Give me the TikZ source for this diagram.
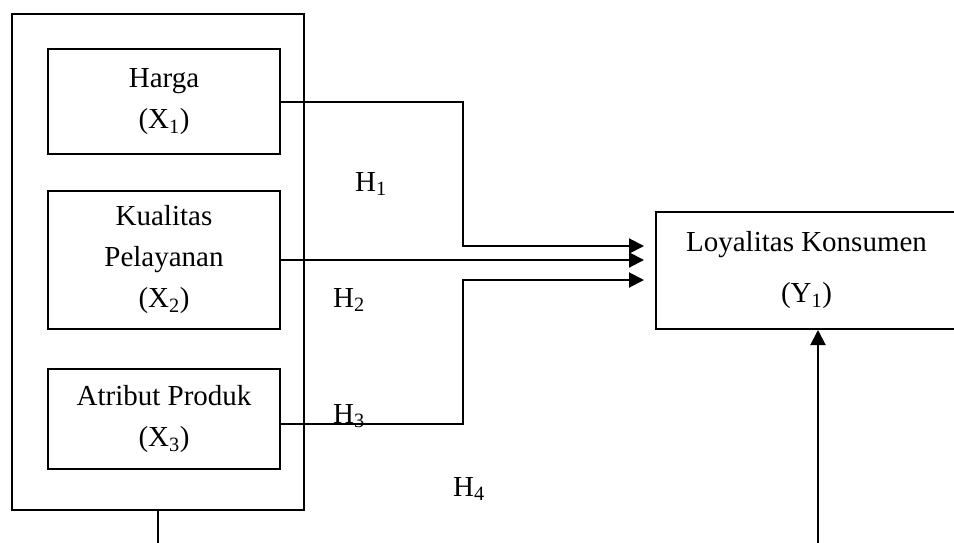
\documentclass[tikz,border=0pt]{standalone}
\usepackage{fontspec}
\setmainfont{Liberation Serif}
\usetikzlibrary{arrows.meta}
\begin{document}
\begin{tikzpicture}[x=1pt,y=-1pt,
  every node/.style={font=\fontsize{29}{41}\selectfont},
  box/.style={draw, line width=2pt, rectangle, inner sep=0pt, align=center},
  link/.style={line width=2pt},
  tip/.style={-{Triangle[length=15pt,width=15pt]}},
  hlabel/.style={anchor=base west, inner sep=0pt}]
\useasboundingbox (0,0) rectangle (954,542);
\clip (0,0) rectangle (954,542);

% independent variables grouped in one frame
\node[box, minimum width=292pt, minimum height=496pt] (group) at (158,262) {};
\node[box, minimum width=232pt, minimum height=105pt] (harga) at (164,101.5) {Harga\\(X\textsubscript{1})};
\node[box, minimum width=232pt, minimum height=138pt] (kual) at (164,260) {Kualitas\\Pelayanan\\(X\textsubscript{2})};
\node[box, minimum width=232pt, minimum height=100pt] (atr) at (164,419) {Atribut Produk\\(X\textsubscript{3})};

% dependent variable
\node[box, minimum width=301pt, minimum height=117pt] (loy) at (806.5,270.5) {Loyalitas Konsumen\\[10pt](Y\textsubscript{1})};

% bend points of the connectors
\coordinate (b1) at (463,246);
\coordinate (b3) at (463,280);
\coordinate (b4) at (818,580);

% partial effects
\draw[link,tip,shorten >=11pt] (harga.east) -| (b1) -- ([yshift=24.5pt]loy.west);
\draw[link,tip,shorten >=11pt] (kual.east) -- (kual.east -| loy.west);
\draw[link,tip,shorten >=11pt] ([yshift=-5pt]atr.east) -| (b3) -- ([yshift=-9.5pt]loy.west);

% simultaneous effect
\draw[link,tip] (group.south) |- (b4) -- ([xshift=11.5pt]loy.south);

% hypothesis labels
\node[hlabel] (h1) at (355,191) {H\textsubscript{1}};
\node[hlabel] (h2) at (333,307) {H\textsubscript{2}};
\node[hlabel] (h3) at (333,423) {H\textsubscript{3}};
\node[hlabel] (h4) at (453,496) {H\textsubscript{4}};
\end{tikzpicture}
\end{document}
